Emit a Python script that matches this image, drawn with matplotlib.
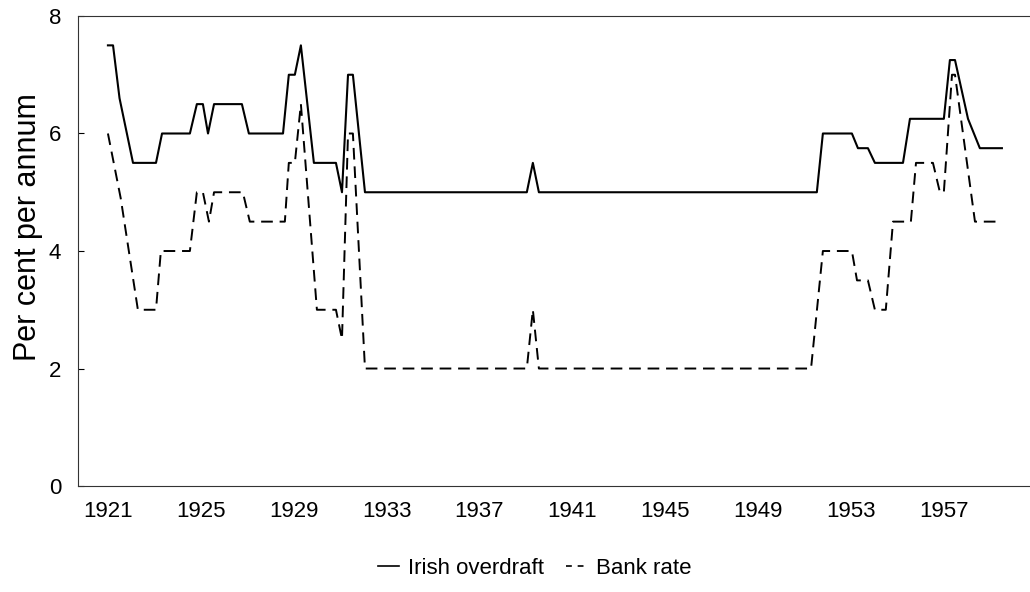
import matplotlib
matplotlib.use("Agg")
import matplotlib.pyplot as plt
from matplotlib.lines import Line2D

plt.rcParams['font.family'] = ['Liberation Sans', 'DejaVu Sans']

# vertices (year, per cent)
od_years = [1921.0, 1921.22, 1921.5, 1922.08, 1923.07, 1923.33, 1924.53, 1924.83, 1925.09,
            1925.31, 1925.57, 1926.77, 1927.07, 1928.54, 1928.79, 1929.05, 1929.31, 1929.87,
            1930.82, 1931.08, 1931.34, 1931.55, 1932.07, 1939.04, 1939.3, 1939.56, 1951.53,
            1951.79, 1953.04, 1953.3, 1953.73, 1954.03, 1955.24, 1955.54, 1957.0, 1957.26,
            1957.48, 1958.04, 1958.55, 1959.5]
od_rate = [7.5, 7.5, 6.6, 5.5, 5.5, 6.0, 6.0, 6.5, 6.5,
           6.0, 6.5, 6.5, 6.0, 6.0, 7.0, 7.0, 7.5, 5.5,
           5.5, 5.0, 7.0, 7.0, 5.0, 5.0, 5.5, 5.0, 5.0,
           6.0, 6.0, 5.75, 5.75, 5.5, 5.5, 6.25, 6.25, 7.25,
           7.25, 6.25, 5.75, 5.75]

br_years = [1921.0, 1921.55, 1922.29, 1923.07, 1923.28, 1924.53, 1924.83, 1925.09, 1925.35,
            1925.57, 1926.81, 1927.11, 1928.62, 1928.79, 1929.05, 1929.31, 1930.0, 1930.82,
            1931.08, 1931.34, 1931.55, 1932.07, 1939.04, 1939.3, 1939.56, 1951.28, 1951.79,
            1953.04, 1953.26, 1953.73, 1954.03, 1954.5, 1954.81, 1955.58, 1955.8, 1956.53,
            1956.83, 1957.0, 1957.35, 1957.48, 1958.34, 1959.5]
br_rate = [6.0, 4.9, 3.0, 3.0, 4.0, 4.0, 5.0, 5.0, 4.5,
           5.0, 5.0, 4.5, 4.5, 5.5, 5.5, 6.5, 3.0, 3.0,
           2.5, 6.0, 6.0, 2.0, 2.0, 3.0, 2.0, 2.0, 4.0,
           4.0, 3.5, 3.5, 3.0, 3.0, 4.5, 4.5, 5.5, 5.5,
           5.0, 5.0, 7.0, 7.0, 4.5, 4.5]

tick_years = [1921, 1925, 1929, 1933, 1937, 1941, 1945, 1949, 1953, 1957]

fig = plt.figure(figsize=(10.3, 5.92), dpi=100)
ax = fig.add_axes([0.0757, 0.179, 0.9243, 0.794])

ax.plot(od_years, od_rate, color="black", lw=1.5)
ax.plot(br_years, br_rate, color="black", lw=1.4, dashes=(6, 3.5))

ax.set_xlim(1919.71, 1960.71)
ax.set_ylim(0, 8)
ax.set_xticks(tick_years)
ax.set_yticks([0, 2, 4, 6, 8])
ax.tick_params(axis="x", length=0, pad=11, labelsize=16)
ax.tick_params(axis="y", direction="in", length=4, pad=12, labelsize=16)
ax.set_ylabel("Per cent per annum", fontsize=22)
ax.yaxis.set_label_coords(-0.037, 0.551)

ax.spines["right"].set_visible(False)
for s in ["left", "top", "bottom"]:
    ax.spines[s].set_linewidth(0.8)
    ax.spines[s].set_color("#333333")

# legend with short handles, like "— Irish overdraft  - - Bank rate"
handles = [Line2D([], [], color="black", lw=1.2),
           Line2D([], [], color="black", lw=1.2, dashes=(3.5, 3.5))]
fig.legend(handles, ["Irish overdraft", "Bank rate"], loc="center",
           bbox_to_anchor=(0.519, 0.04), ncol=2, frameon=False,
           fontsize=16, handlelength=0.95, handletextpad=0.4, columnspacing=1.0)

fig.savefig("out.png", dpi=100)
